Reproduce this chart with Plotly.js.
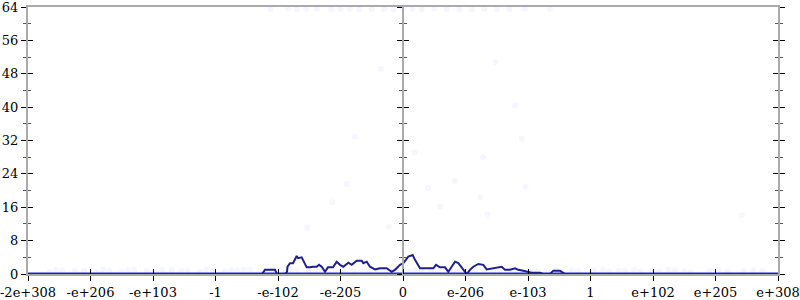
<!DOCTYPE html>
<html>
<head>
<meta charset="utf-8">
<script src="https://cdn.plot.ly/plotly-3.0.1.min.js"></script>
<style>html,body{margin:0;padding:0;background:#fff;}#chart{width:800px;height:300px;}</style>
</head>
<body>
<div id="chart"></div>
<script>
// Tick labels on the (transformed) x axis, evenly spaced positions 0..12
const tickLabels = ["-2e+308","-e+206","-e+103","-1","-e-102","-e-205","0","e-206","e-103","1","e+102","e+205","e+308"];
const tickPos = [0,1,2,3,4,5,6,7,8,9,10,11,12];

// Density line (x in transformed-axis units, y = count)
const lineX = [0,3.744,3.792,3.952,3.984,4.112,4.144,4.152,4.192,4.24,4.299,4.32,4.379,4.4,4.459,4.512,4.56,4.619,4.656,4.699,4.752,4.8,4.88,4.939,4.992,5.045,5.125,5.179,5.259,5.339,5.365,5.419,5.472,5.552,5.632,5.739,5.819,5.872,5.925,5.952,6.005,6.085,6.155,6.192,6.272,6.485,6.528,6.592,6.672,6.725,6.779,6.832,6.885,6.965,7.019,7.072,7.125,7.205,7.285,7.339,7.419,7.499,7.579,7.632,7.712,7.792,7.845,7.925,7.979,8.059,8.192,8.245,8.352,8.405,8.512,8.592,12];
const lineY = [0,0,1,1,0,0,0.5,1.75,2.6,2.6,4.3,3.8,4,3.4,1.6,1.6,1.75,1.75,2.2,1.75,0.55,1.6,1.6,2.95,2.2,1.75,2.7,2.2,3.2,3.2,2.6,2.95,1.75,1.1,1.4,1.4,0.55,1,1.75,2.2,2.6,4.15,4.55,3.4,1.35,1.35,2.2,1.6,1.6,0.55,1.75,2.95,2.6,1,0,1,1.75,2.4,2.2,1.1,1.35,1.6,1.75,1,1,1.35,1,0.8,0.55,0.3,0.3,0,0,0.8,0.8,0,0];

// Baseline of samples at zero
const baseX = [0,12];
const baseY = [0,0];

// Faint sample points
const ptsX = [0.35,0.55,0.9,1.1,1.3,1.5,1.7,1.9,2.05,2.3,2.55,2.75,2.95,3.15,3.35,3.55,3.7,3.9,4.1,4.3,4.5,4.7,4.95,5.2,5.45,5.7,5.9,6.1,6.3,6.55,6.8,7.05,7.3,7.55,7.8,8.05,8.3,8.55,8.8,9.05,9.3,9.55,9.8,10.1,10.35,10.6,10.9,11.2,11.45,11.75,
  0.45,0.75,1.2,1.6,2.15,2.45,2.85,3.25,3.45,3.8,4.2,4.6,5.05,5.35,5.6,6.2,6.45,6.9,7.15,7.45,7.7,8.15,8.45,8.7,9.2,9.45,9.7,10.0,10.25,10.5,11.05,11.6,
  3.88,4.16,4.3,4.45,4.62,4.85,5.0,5.15,5.3,5.5,5.7,5.85,6.0,6.15,6.3,6.5,6.7,6.9,7.1,7.3,7.5,7.7,7.95,8.35,
  5.65,5.23,7.48,7.79,7.9,5.1,4.87,4.47,5.77,6.19,7.28,6.4,6.83,7.96,6.6,7.24,7.35,11.42];
const ptsY = [0.6,0.9,0.7,0.5,0.8,0.6,1.0,0.7,0.5,0.9,0.8,0.6,0.9,0.7,0.8,1.0,0.6,0.9,0.7,0.8,0.6,0.9,0.5,0.8,0.7,0.6,0.9,0.5,0.8,0.9,0.6,0.8,0.5,0.9,0.7,0.6,0.8,0.5,0.7,0.9,0.6,0.8,0.7,0.6,0.9,0.5,0.8,0.6,0.9,0.7,
  1.0,0.8,1.1,0.9,1.0,0.7,1.1,0.9,1.0,0.8,1.1,0.9,1.0,0.7,1.1,0.9,1.0,0.8,1.1,0.9,1.0,0.7,1.1,0.9,1.0,0.8,1.1,0.9,1.0,0.7,1.1,0.9,
  63.5,63.6,63.4,63.5,63.6,63.4,63.5,63.6,63.4,63.5,63.5,63.4,63.6,63.5,63.4,63.6,63.5,63.4,63.5,63.6,63.4,63.5,63.6,63.5,
  49.2,32.9,50.8,40.4,32.4,21.6,17.2,11.1,11.3,29.1,28,20.7,22.3,20.9,16.1,18.4,14.3,14.1];

const font = {family: "DejaVu Serif", size: 13, color: "#000"};

const traces = [
  {x: ptsX, y: ptsY, type: "scatter", mode: "markers", marker: {color: "rgba(40,40,255,0.045)", size: 6}, hoverinfo: "skip", showlegend: false},
  {x: baseX, y: baseY, type: "scatter", mode: "lines", line: {color: "rgb(40,40,215)", width: 3}, showlegend: false},
  {x: lineX, y: lineY, type: "scatter", mode: "lines", line: {color: "rgb(32,32,140)", width: 2}, showlegend: false}
];

const yCommon = {range: [0, 64], tickmode: "linear", tick0: 0, dtick: 8, showgrid: false, zeroline: false,
  ticklen: 5, tickwidth: 1, tickcolor: "#000",
  minor: {tickmode: "linear", tick0: 0, dtick: 4, ticklen: 3, tickcolor: "#555", tickwidth: 1, ticks: "outside"}};

const layout = {
  width: 800, height: 300,
  margin: {l: 28, r: 22, t: 7, b: 26},
  paper_bgcolor: "#fff", plot_bgcolor: "#fff",
  font: font,
  showlegend: false,
  xaxis: {range: [0, 12], tickmode: "array", tickvals: tickPos, ticktext: tickLabels,
    ticks: "outside", ticklen: 5, tickwidth: 1, tickcolor: "#000", showgrid: false, zeroline: false,
    showline: true, linecolor: "#aaa", linewidth: 2, mirror: true, tickfont: font, ticklabeloverflow: "allow"},
  xaxis2: {overlaying: "x", anchor: "y", range: [0, 12], tickmode: "array", tickvals: tickPos,
    ticks: "inside", ticklen: 5, tickwidth: 1, tickcolor: "#000", showticklabels: false, showgrid: false, zeroline: false, showline: false},
  yaxis: Object.assign({}, yCommon, {ticks: "outside", mirror: "ticks", showline: true, linecolor: "#aaa", linewidth: 2, tickfont: font,
    ticklabeloverflow: "allow", minor: Object.assign({}, yCommon.minor, {ticks: "outside"})}),
  yaxis2: Object.assign({}, yCommon, {overlaying: "y", anchor: "x", ticks: "inside", mirror: "ticks", showticklabels: false, showline: false,
    minor: Object.assign({}, yCommon.minor, {ticks: "inside"})}),
  yaxis3: Object.assign({}, yCommon, {overlaying: "y", anchor: "free", position: 0.5, ticks: "outside", showticklabels: false,
    showline: true, linecolor: "#aaa", linewidth: 2, minor: Object.assign({}, yCommon.minor, {ticks: "outside"})}),
  yaxis4: Object.assign({}, yCommon, {overlaying: "y", anchor: "free", position: 0.5, ticks: "inside", showticklabels: false,
    showline: false, minor: Object.assign({}, yCommon.minor, {ticks: "inside"})})
};

// invisible traces to activate the overlay axes that draw two-sided ticks
traces.push({x: [0], y: [0], xaxis: "x2", yaxis: "y2", mode: "markers", marker: {opacity: 0}, hoverinfo: "skip", showlegend: false});
traces.push({x: [0], y: [0], yaxis: "y3", mode: "markers", marker: {opacity: 0}, hoverinfo: "skip", showlegend: false});
traces.push({x: [0], y: [0], yaxis: "y4", mode: "markers", marker: {opacity: 0}, hoverinfo: "skip", showlegend: false});

Plotly.newPlot("chart", traces, layout, {staticPlot: true});
</script>
</body>
</html>
